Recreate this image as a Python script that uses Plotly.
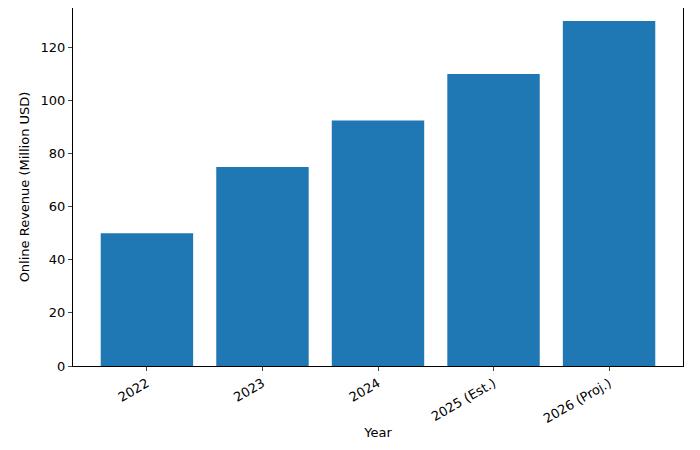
import plotly.graph_objects as go

years = ["2022", "2023", "2024", "2025 (Est.)", "2026 (Proj.)"]
revenue = [50, 75, 92.5, 110, 130]

fig = go.Figure(go.Bar(x=list(range(len(years))), y=revenue, width=0.8,
                       marker=dict(color="#1f77b4", line=dict(width=0))))
fig.update_layout(
    width=684, height=434, margin=dict(l=65, r=9, t=0, b=76),
    plot_bgcolor="white", paper_bgcolor="white",
    font=dict(family="DejaVu Sans", size=13, color="black"),
    showlegend=False,
)
fig.update_xaxes(range=[-0.64, 4.64], tickvals=list(range(len(years))), ticktext=years,
                 tickangle=-30, showline=True, mirror=True, linecolor="black", linewidth=1,
                 ticks="outside", ticklen=4, showgrid=False, zeroline=False,
                 title=dict(text="Year", standoff=2, font=dict(size=13)))
fig.update_yaxes(range=[0, 134.9], tickvals=[0, 20, 40, 60, 80, 100, 120],
                 showline=True, mirror=True, linecolor="black", linewidth=1,
                 ticks="outside", ticklen=4, showgrid=False, zeroline=False,
                 title=dict(text="Online Revenue (Million USD)", standoff=8, font=dict(size=13)))
fig.write_html("out.html")
